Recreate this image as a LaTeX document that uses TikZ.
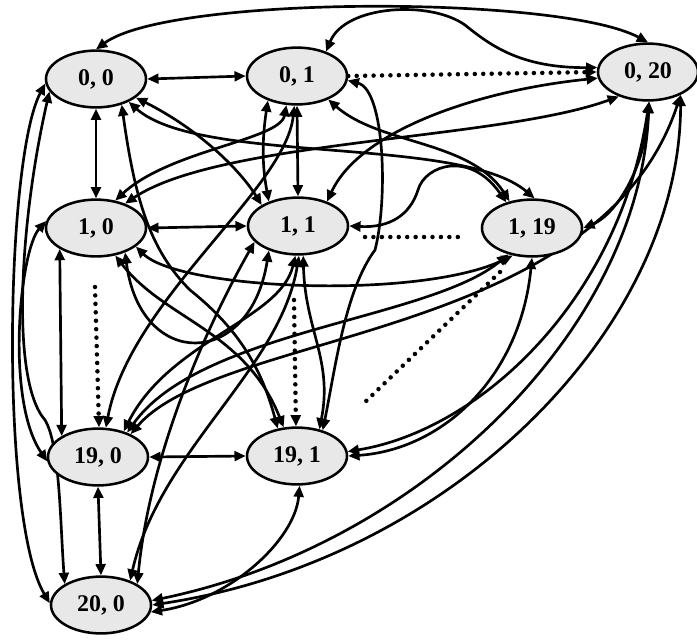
\documentclass[tikz,border=0pt]{standalone}
\usepackage{fontspec}
\setmainfont{Liberation Serif}
\usetikzlibrary{arrows.meta,shapes.geometric,backgrounds}
\tikzset{
  st/.style={ellipse, draw, line width=1.8pt, fill=gray!18, minimum width=2.5cm,
    minimum height=1.42cm, inner sep=0pt, font=\fontsize{17}{20}\selectfont\bfseries},
  bi/.style={line width=1.9pt, {Triangle[length=8pt,width=7pt]}-{Triangle[length=8pt,width=7pt]}},
  dotline/.style={line width=3.2pt, line cap=round, dash pattern=on 0pt off 6pt},
  dotarrow/.style={dotline, -{Triangle[length=8pt,width=7pt]}},
}
\begin{document}
\begin{tikzpicture}[x=0.025cm,y=-0.025cm]
\useasboundingbox (0,0) rectangle (697,641);
\node[st] (n00)  at (96,79)   {0, 0};
\node[st] (n01)  at (297,76)  {0, 1};
\node[st] (n020) at (648,72)  {0, 20};
\node[st] (n10)  at (96,228)  {1, 0};
\node[st] (n11)  at (298,226) {1, 1};
\node[st] (n119) at (532,228) {1, 19};
\node[st] (n190) at (98,457)  {19, 0};
\node[st] (n191) at (297,456) {19, 1};
\node[st] (n200) at (101,605) {20, 0};
\coordinate (p1) at (365,237);
\coordinate (p2) at (462,237);
\coordinate (p3) at (500,272);
\coordinate (p4) at (362,405);
\coordinate (p5) at (95,287);
\coordinate (p6) at (294,300);
\begin{scope}[on background layer]
% straight links
\draw[bi] (n00.east) -- (n01.west);
\draw[bi] (n00.south) -- (n10.north);
\draw[bi] (n01.south) -- (n11.north);
\draw[bi] (n10.east) -- (n11.west);
\draw[bi] (n10.210) -- (n190.150);
\draw[bi] (n190.south) -- (n200.north);
\draw[bi] (n190.east) -- (n191.west);
\draw[bi] (n01.220) .. controls (262,140) and (262,165) .. (n11.140);
% top arcs
\draw[bi] (n00.north) .. controls (170,-5) and (560,-5) .. (n020.north);
\draw[bi] (n01.40) .. controls (345,5) and (430,0) .. (465,25) .. controls (490,45) and (520,68) .. (n020.175);
\draw[dotarrow] (n01.east) -- (n020.180);
% upper middle
\draw[bi] (n020.187) .. controls (480,90) and (360,130) .. (n11.40);
\draw[bi] (n020.220) .. controls (500,140) and (220,140) .. (n10.40);
\draw[bi] (n00.-35) .. controls (200,165) and (460,135) .. (n119.85);
\draw[bi] (n01.-37) .. controls (380,145) and (470,140) .. (n119.130);
\draw[bi] (n01.265) .. controls (285,190) and (130,300) .. (n190.75);
\draw[bi] (n01.250) .. controls (280,140) and (170,150) .. (n10.55);
\draw[bi] (n00.-25) .. controls (200,130) and (240,170) .. (n11.150);
\draw[bi] (n00.-45) .. controls (135,200) and (150,250) .. (190,290) .. controls (240,330) and (262,370) .. (n191.125);
\draw[bi] (n01.-5) .. controls (385,90) and (388,200) .. (375,250) .. controls (345,290) and (335,370) .. (n191.45);
\draw[bi] (n11.-80) .. controls (305,330) and (333,360) .. (n191.50);
\draw[bi] (n10.-40) .. controls (140,370) and (250,370) .. (n11.220);
\draw[bi] (n10.-25) .. controls (180,290) and (420,300) .. (n119.235);
\draw[bi] (n11.east) .. controls (390,228) and (410,215) .. (418,190) .. controls (425,165) and (470,150) .. (n119.135);
\draw[bi] (n10.-55) .. controls (165,320) and (245,330) .. (n191.115);
% left arcs
\draw[bi] (n00.185) .. controls (5,160) and (0,520) .. (n200.178);
\draw[bi] (n10.172) .. controls (20,250) and (5,400) .. (n190.185);
\draw[bi] (n00.195) .. controls (20,220) and (10,380) .. (45,420) .. controls (60,445) and (60,520) .. (n200.150);
% right and lower
\draw[bi] (n200.east) .. controls (450,560) and (680,330) .. (n020.-35);
\draw[bi] (n200.5) .. controls (420,545) and (640,330) .. (n020.-88);
\draw[bi] (n191.-85) .. controls (295,540) and (230,600) .. (n200.-8);
\draw[bi] (n191.east) .. controls (440,450) and (520,380) .. (n119.-90);
\draw[bi] (n191.5) .. controls (480,430) and (620,300) .. (n020.-88);
\draw[bi] (n119.east) .. controls (615,215) and (645,170) .. (n020.-88);
\draw[bi] (n190.35) .. controls (220,330) and (600,340) .. (n020.-35);
\draw[bi] (n190.45) .. controls (170,340) and (280,320) .. (n11.-95);
\draw[bi] (n190.40) .. controls (200,330) and (430,320) .. (n119.228);
\draw[bi] (n200.40) .. controls (160,450) and (280,370) .. (n11.-88);
\draw[bi] (n11.200) .. controls (210,320) and (150,450) .. (n200.30);
% dotted
\draw[dotline] (p1) -- (p2);
\draw[dotline] (p3) -- (p4);
\draw[dotarrow] (p5) -- (n190.88);
\draw[dotarrow] (p6) -- (n191.92);
\end{scope}
\end{tikzpicture}
\end{document}
